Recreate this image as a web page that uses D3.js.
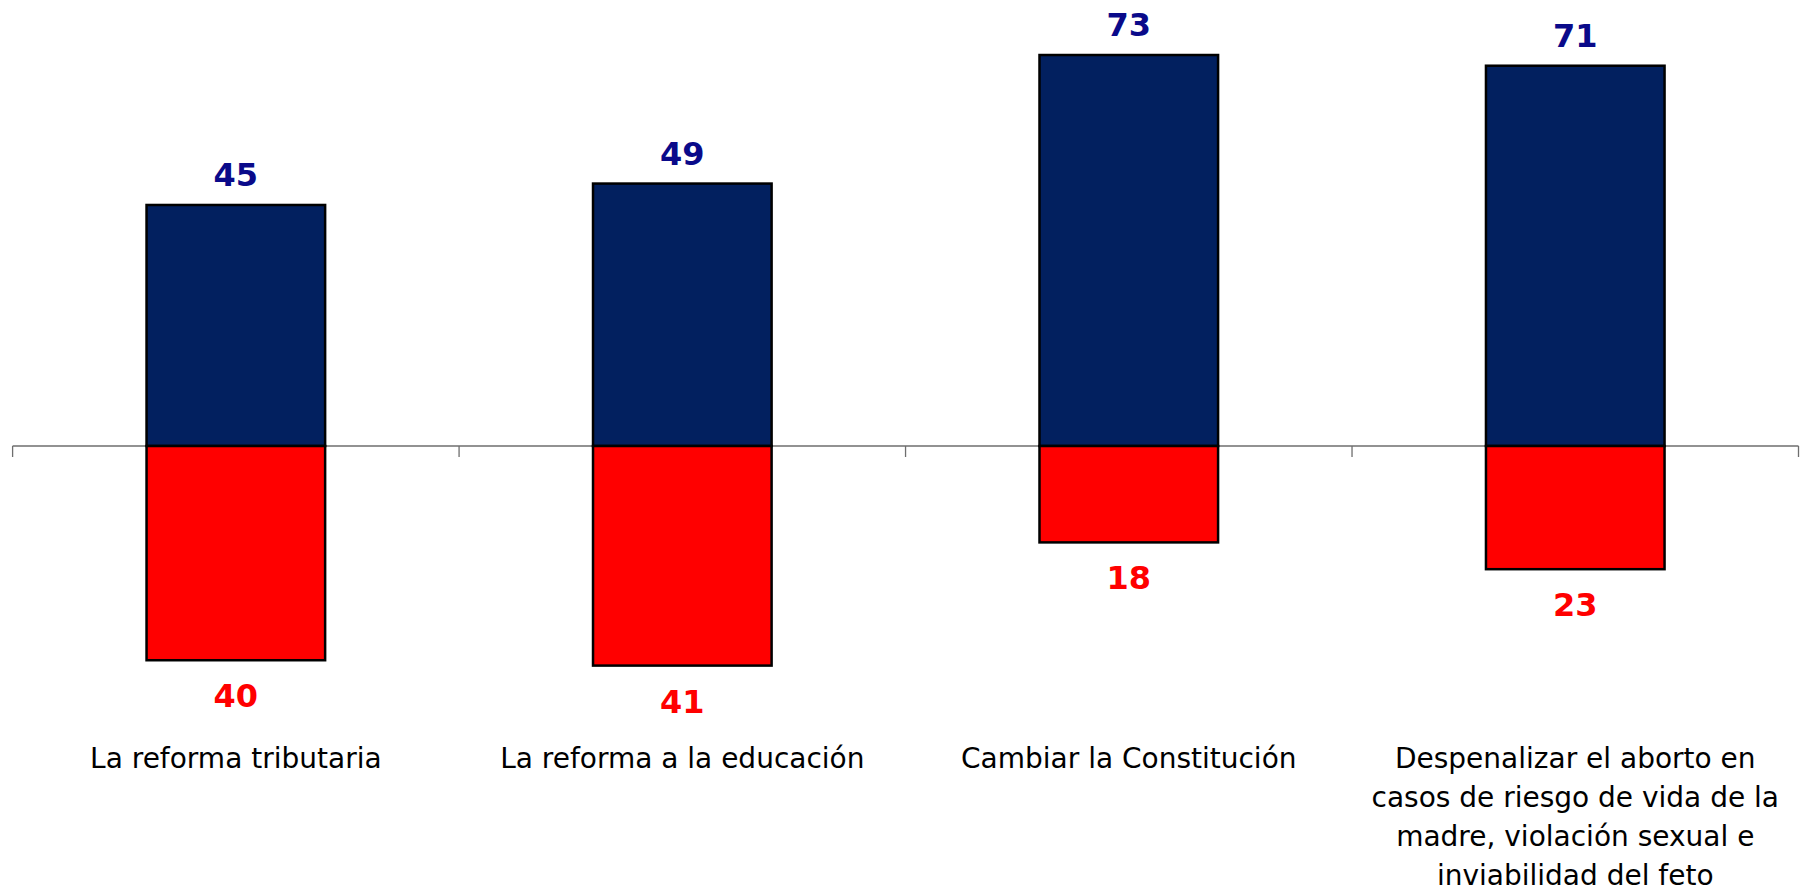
<!doctype html>
<html>
<head>
<meta charset="utf-8">
<script src="https://cdn.jsdelivr.net/npm/d3@7"></script>
<style>
  body { margin: 0; background: #fff; }
  svg { display: block; }
  .cat { font-family: "DejaVu Sans", Verdana, sans-serif; font-size: 28px; fill: #000; }
  .val { font-family: "DejaVu Sans", Verdana, sans-serif; font-size: 32px; font-weight: bold; }
</style>
</head>
<body>
<svg width="1802" height="885"></svg>
<script>
// data
var categories = [
  ["La reforma tributaria"],
  ["La reforma a la educación"],
  ["Cambiar la Constitución"],
  ["Despenalizar el aborto en", "casos de riesgo de vida de la", "madre, violación sexual e", "inviabilidad del feto"]
];
var favor = [45, 49, 73, 71];
var contra = [40, 41, 18, 23];

var svg = d3.select("svg");

var x = d3.scaleBand()
    .domain(d3.range(categories.length))
    .range([12.6, 1798.5])
    .paddingInner(0).paddingOuter(0);

// zero line at 446, ~5.356px per point
var y = d3.scaleLinear().domain([-80, 80]).range([446 + 80 * 5.356, 446 - 80 * 5.356]);

var barW = x.bandwidth() * 0.4;
function barX(i) { return x(i) + (x.bandwidth() - barW) / 2; }

// axis line with ticks at category boundaries
var axis = svg.append("g").attr("stroke", "#6e6e6e").attr("stroke-width", 1.3);
axis.append("line")
  .attr("x1", x.range()[0]).attr("x2", x.range()[1])
  .attr("y1", y(0)).attr("y2", y(0));
var bounds = d3.range(categories.length).map(function(i) { return x(i); }).concat([x.range()[1]]);
axis.selectAll(".tick")
  .data(bounds)
  .enter().append("line")
  .attr("x1", function(d) { return d; }).attr("x2", function(d) { return d; })
  .attr("y1", y(0)).attr("y2", y(0) + 11);

var g = svg.append("g");

// positive bars (blue)
g.selectAll(".pos")
  .data(favor)
  .enter().append("rect")
  .attr("class", "pos")
  .attr("x", function(d, i) { return barX(i); })
  .attr("y", function(d) { return y(d); })
  .attr("width", barW)
  .attr("height", function(d) { return y(0) - y(d); })
  .attr("fill", "#02205f")
  .attr("stroke", "#000")
  .attr("stroke-width", 2.5);

// negative bars (red)
g.selectAll(".neg")
  .data(contra)
  .enter().append("rect")
  .attr("class", "neg")
  .attr("x", function(d, i) { return barX(i); })
  .attr("y", y(0))
  .attr("width", barW)
  .attr("height", function(d) { return y(-d) - y(0); })
  .attr("fill", "#ff0000")
  .attr("stroke", "#000")
  .attr("stroke-width", 2.5);

// value labels
svg.selectAll(".vpos")
  .data(favor)
  .enter().append("text")
  .attr("class", "val")
  .attr("text-anchor", "middle")
  .attr("fill", "#0a0a8a")
  .attr("x", function(d, i) { return x(i) + x.bandwidth() / 2; })
  .attr("y", function(d) { return y(d) - 19; })
  .text(function(d) { return d; });

svg.selectAll(".vneg")
  .data(contra)
  .enter().append("text")
  .attr("class", "val")
  .attr("text-anchor", "middle")
  .attr("fill", "#ff0000")
  .attr("x", function(d, i) { return x(i) + x.bandwidth() / 2; })
  .attr("y", function(d) { return y(-d) + 47; })
  .text(function(d) { return d; });

// category labels
var labels = svg.selectAll(".cat")
  .data(categories)
  .enter().append("text")
  .attr("class", "cat")
  .attr("text-anchor", "middle")
  .attr("x", function(d, i) { return x(i) + x.bandwidth() / 2; })
  .attr("y", 768);

labels.selectAll("tspan")
  .data(function(d) { return d; })
  .enter().append("tspan")
  .attr("x", function() { return d3.select(this.parentNode).attr("x"); })
  .attr("dy", function(d, i) { return i === 0 ? 0 : 39; })
  .text(function(d) { return d; });
</script>
</body>
</html>
